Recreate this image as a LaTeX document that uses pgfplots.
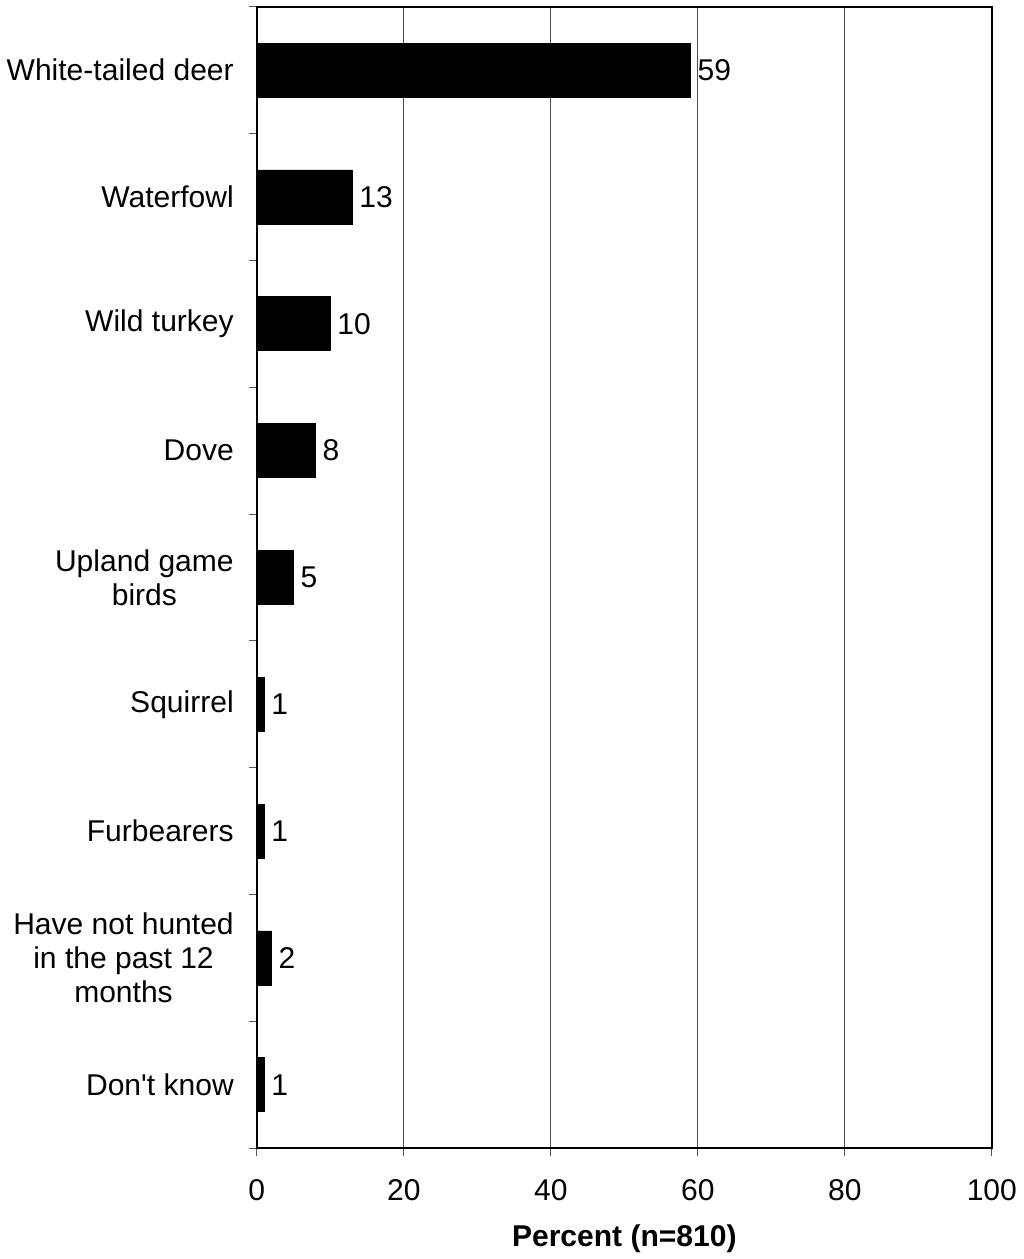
\documentclass[border=0pt]{standalone}
\usepackage{fontspec}
\setmainfont{Liberation Sans}[Ligatures=TeXOff]
\usepackage{pgfplots}
\pgfplotsset{compat=1.18}

\newcommand{\lblfont}{\fontsize{15}{17}\selectfont}

\begin{document}
\begin{tikzpicture}
\begin{axis}[
  scale only axis,
  width=367pt, height=570pt,
  xmin=0, xmax=100,
  ymin=-0.5, ymax=8.5,
  y dir=reverse,
  xbar, bar width=27pt, bar shift=0pt,
  xtick={0,20,...,100},
  xtick pos=bottom, ytick pos=left,
  tick align=outside,
  major tick length=4pt,
  tick style={gray!70!black, line width=0.5pt},
  ytick={-0.5,0.5,...,8.5},
  yticklabels={},
  extra y ticks={0,1,2,3,4,5,6,7,8},
  extra y tick labels={White-tailed deer, Waterfowl, Wild turkey, Dove,
    {Upland game\\birds}, Squirrel, Furbearers,
    {Have not hunted\\in the past 12\\months}, Don't know},
  extra y tick style={major tick length=0pt,
    tick label style={align=center, font=\lblfont}},
  yticklabel style={xshift=-8pt},
  xticklabel style={yshift=-8pt},
  xmajorgrids,
  major grid style={gray!60!black, line width=0.5pt},
  axis line style={black, line width=1pt},
  tick label style={font=\lblfont},
  /pgf/number format/assume math mode=true,
  nodes near coords,
  nodes near coords style={font=\lblfont, anchor=west, black},
  xlabel={\bfseries Percent (n=810)},
  xlabel style={font=\lblfont, yshift=-5pt},
]
\addplot[fill=black, draw=black] coordinates {
  (59,0) (13,1) (10,2) (8,3) (5,4) (1,5) (1,6) (2,7) (1,8)
};
\end{axis}
\end{tikzpicture}
\end{document}
